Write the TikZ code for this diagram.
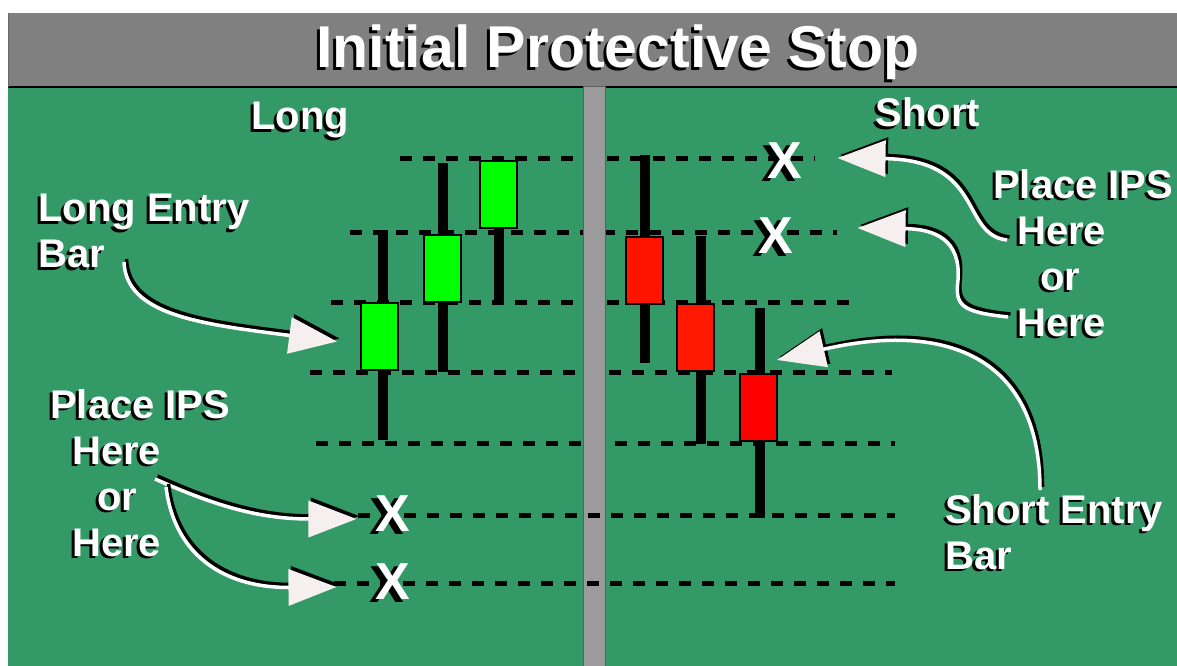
\documentclass[tikz,border=0pt]{standalone}
\usepackage{fontspec}
\setmainfont{Liberation Sans}
\usetikzlibrary{arrows.meta}

\definecolor{board}{RGB}{51,153,102}
\definecolor{titlegray}{RGB}{128,128,128}
\definecolor{divgray}{RGB}{155,155,155}
\definecolor{bullgreen}{RGB}{0,255,0}
\definecolor{bearred}{RGB}{255,20,0}
\definecolor{tipwhite}{RGB}{246,239,239}

\tikzset{
  lbl/.style={inner sep=0pt, text=white, align=left, font=\fontsize{40}{46}\selectfont\bfseries},
  titletext/.style={inner sep=0pt, text=white, font=\fontsize{59}{64}\selectfont\bfseries},
  xmark/.style={inner sep=0pt, text=white, font=\fontsize{52}{56}\selectfont\bfseries},
  stopline/.style={black, line width=5pt, dash pattern=on 12pt off 11pt},
  wick/.style={black, line width=10pt},
  bullbar/.style={draw=black, line width=2pt, fill=bullgreen, minimum width=37pt, minimum height=67pt, inner sep=0pt},
  bearbar/.style={bullbar, fill=bearred},
  arrowshade/.style={black, line width=3.5pt, -{Triangle[length=48pt,width=36pt]}, transform canvas={xshift=2.5pt,yshift=3pt}},
  arrowwhite/.style={white, line width=3.5pt, -{Triangle[length=48pt,width=36pt,color=tipwhite]}}
}

% white text with a black drop shadow behind it
\newcommand{\shd}[2][3pt]{\leavevmode\rlap{\kern-#1\raisebox{-2.5pt}{\color{black}#2}}#2}
\newcommand{\ipsarrow}[1]{%
  \draw[arrowshade] #1;
  \draw[arrowwhite] #1;
}

\begin{document}
\begin{tikzpicture}[x=1pt,y=-1pt]
\useasboundingbox (0,0) rectangle (1177,666);
\fill[board] (8,87) rectangle (1177,666);
\fill[titlegray] (8,13) rectangle (1177,87);
\draw[black, line width=2.5pt] (8,87) -- (1177,87);
\draw[black!60, line width=1pt] (8.5,13) -- (8.5,87);

% price levels
\foreach \y/\a/\b in {158/400/815, 232/350/837, 302/331/860, 372/310/892, 443/316/895}
  \draw[stopline] (\a,\y) -- (\b,\y);
\draw[divgray!60!black, fill=divgray, line width=1pt] (583,87) rectangle (605,667);
\foreach \y/\a in {515/358, 583/334}
  \draw[stopline] (\a,\y) -- (895,\y);

% candles
\foreach \x/\t/\b in {383/230/440, 443/163/372, 499/195/303, 645/155/363, 701/236/444, 760/308/518}
  \draw[wick] (\x,\t) -- (\x,\b);
\node[bullbar] (long1) at (379.5,336.5) {};
\node[bullbar] (long2) at (442,268.5) {};
\node[bullbar] (long3) at (498,194.5) {};
\node[bearbar] (short1) at (644.5,270) {};
\node[bearbar, fill=red!100!orange!90!yellow] (short2) at (695.5,337) {};
\node[bearbar, fill=red] (short3) at (758,407.5) {};

% stop marks
\node[xmark] (xlong1) at (393,515) {\shd[6pt]{X}};
\node[xmark] (xlong2) at (393,583) {\shd[6pt]{X}};
\node[xmark] (xshort1) at (785,162) {\shd[6pt]{X}};
\node[xmark] (xshort2) at (776,237) {\shd[6pt]{X}};

% texts
\node[titletext, anchor=base] (title) at (618,68) {\shd{Initial Protective Stop}};
\node[lbl, anchor=base] (long) at (300,130) {\shd{Long}};
\node[lbl, anchor=base] (short) at (928,127) {\shd{Short}};
\node[lbl, anchor=north west] (leb) at (38,194) {\shd{Long Entry}\\\shd{Bar}};
\node[lbl, anchor=north west] (ipsl) at (50,389)
  {\shd{Place IPS}\\\hspace*{22pt}\shd{Here}\\\hspace*{47pt}\shd{or}\\\hspace*{22pt}\shd{Here}};
\node[lbl, anchor=north west] (ipsr) at (993,169)
  {\shd{Place IPS}\\\hspace*{24pt}\shd{Here}\\\hspace*{47pt}\shd{or}\\\hspace*{24pt}\shd{Here}};
\node[lbl, anchor=north west] (seb) at (945,494) {\shd{Short Entry}\\\shd{Bar}};

% arrows
\coordinate (leb-from) at (124,262);
\coordinate (ipsl-from1) at (155,479);
\coordinate (ipsl-from2) at (166,487);
\coordinate (ipsr-from1) at (1007,240);
\coordinate (ipsr-from2) at (1008,317);
\coordinate (seb-from) at (1040,490);
\ipsarrow{(leb-from) .. controls (126,315) and (200,324) .. ([shift={(-23,5)}]long1.west)}
\ipsarrow{(ipsl-from1) .. controls (215,506) and (260,519) .. ([shift={(-19,4)}]xlong1.west)}
\ipsarrow{(ipsl-from2) .. controls (175,560) and (230,588) .. ([shift={(-39,4)}]xlong2.west)}
\ipsarrow{(ipsr-from1) .. controls (960,235) and (985,160) .. ([shift={(35,-4)}]xshort1.east)}
\ipsarrow{(ipsr-from2) .. controls (960,312) and (955,305) .. (958,280) .. controls (961,240) and (935,229) .. ([shift={(64,-9)}]xshort2.east)}
\ipsarrow{(seb-from) .. controls (1040,360) and (950,320) .. ([shift={(19,-13)}]short3.north)}
\end{tikzpicture}
\end{document}
